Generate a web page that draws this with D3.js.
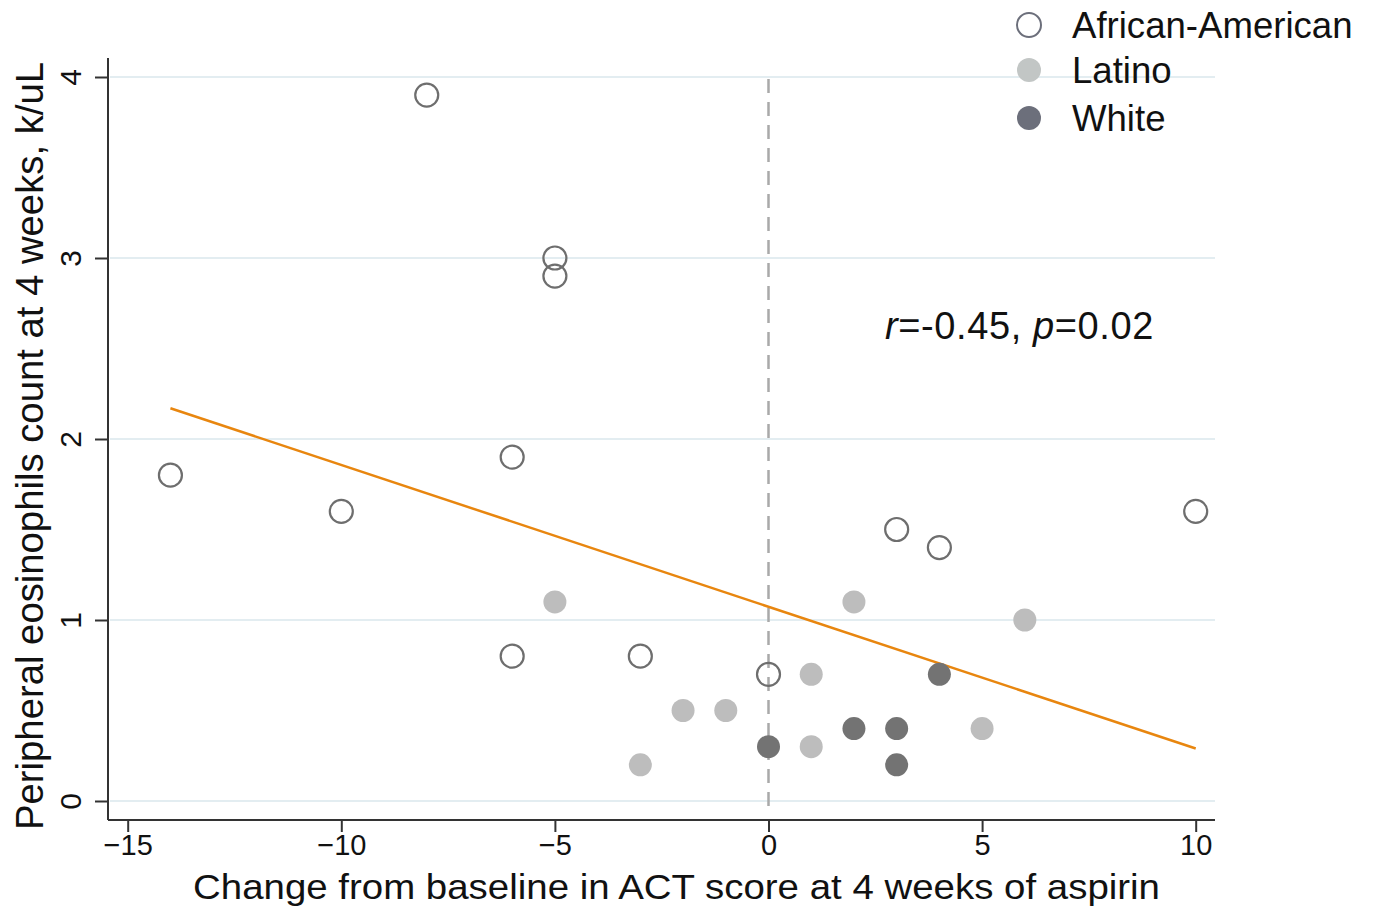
<!DOCTYPE html>
<html><head><meta charset="utf-8">
<script src="https://cdn.jsdelivr.net/npm/d3@7"></script>
<style>
html,body{margin:0;padding:0;background:#fff;}
text{font-family:"Liberation Sans",Arial,Helvetica,sans-serif;fill:#111;}
</style></head>
<body><svg id="c" width="1375" height="916"></svg>
<script>
// ---- data ----
const groups = ["African-American", "Latino", "White"];
const aaX = [-8, -5, -5, -14, -10, -6, -6, -3, 0, 3, 4, 10];
const aaY = [3.9, 3.0, 2.9, 1.8, 1.6, 1.9, 0.8, 0.8, 0.7, 1.5, 1.4, 1.6];
const laX = [-5, -3, -2, -1, 1, 1, 2, 5, 6];
const laY = [1.1, 0.2, 0.5, 0.5, 0.7, 0.3, 1.1, 0.4, 1.0];
const whX = [0, 2, 3, 3, 4];
const whY = [0.3, 0.4, 0.4, 0.2, 0.7];
const fitX = [-14, 10];
const fitY = [2.17, 0.29];
const xTicks = [-15, -10, -5, 0, 5, 10];
const yTicks = [0, 1, 2, 3, 4];
const xTitle = "Change from baseline in ACT score at 4 weeks of aspirin";
const yTitle = "Peripheral eosinophils count at 4 weeks, k/uL";

const svg = d3.select("#c");
const x = d3.scaleLinear().domain([0, 5]).range([768.5, 982.1]);
const y = d3.scaleLinear().domain([0, 4]).range([801, 77]);
const plotL = 108, plotR = 1215, plotB = 820, plotT = 58;

// grid
svg.append("g").selectAll("line").data(yTicks).join("line")
  .attr("x1", plotL + 2).attr("x2", plotR).attr("y1", d => y(d)).attr("y2", d => y(d))
  .attr("stroke", "#e3edf1").attr("stroke-width", 2);

// zero dashed line
svg.append("line").attr("x1", x(0)).attr("x2", x(0)).attr("y1", y(4.0) + 2).attr("y2", plotB - 6)
  .attr("stroke", "#a9a9a9").attr("stroke-width", 2.5).attr("stroke-dasharray", "14,9");

// axes
const yAxis = d3.axisLeft(y).tickValues(yTicks).tickSize(13).tickPadding(14).tickFormat(d3.format("d"));
const gy = svg.append("g").attr("transform", `translate(${plotL},0)`).call(yAxis);
gy.select(".domain").remove();
gy.append("line").attr("x1", 0).attr("x2", 0).attr("y1", plotT).attr("y2", plotB).attr("stroke", "#333").attr("stroke-width", 2);
gy.selectAll(".tick line").attr("stroke", "#333").attr("stroke-width", 2);
gy.selectAll(".tick text").attr("font-size", 30).attr("fill", "#111")
  .attr("text-anchor", "middle")
  .each(function(){ d3.select(this).attr("transform", "translate(-38,0) rotate(-90)").attr("y", 0).attr("x", 0).attr("dy", "0.35em"); });

const xAxis = d3.axisBottom(x).tickValues(xTicks).tickSize(12).tickPadding(2)
  .tickFormat(d => d < 0 ? "\u2212" + Math.abs(d) : d);
const gx = svg.append("g").attr("transform", `translate(0,${plotB})`).call(xAxis);
gx.select(".domain").remove();
gx.append("line").attr("x1", plotL).attr("x2", plotR).attr("y1", 0).attr("y2", 0).attr("stroke", "#333").attr("stroke-width", 2);
gx.selectAll(".tick line").attr("stroke", "#333").attr("stroke-width", 2);
gx.selectAll(".tick text").attr("font-size", 29).attr("fill", "#111");

// titles
svg.append("text").attr("x", 676.5).attr("y", 899).attr("text-anchor", "middle")
  .attr("font-size", 35).attr("textLength", 967).attr("lengthAdjust", "spacingAndGlyphs").text(xTitle);
svg.append("text").attr("transform", "translate(43,446) rotate(-90)").attr("text-anchor", "middle")
  .attr("font-size", 38).attr("textLength", 768).attr("lengthAdjust", "spacingAndGlyphs").text(yTitle);

// fit line
svg.append("path").datum(fitX.map((d, i) => [d, fitY[i]]))
  .attr("d", d3.line().x(d => x(d[0])).y(d => y(d[1])))
  .attr("fill", "none").attr("stroke", "#e8860f").attr("stroke-width", 2.5);

// points
const R = 11.5;
function pts(xs, ys, fill, stroke) {
  svg.append("g").selectAll("circle").data(xs.map((d, i) => [d, ys[i]])).join("circle")
    .attr("cx", d => x(d[0])).attr("cy", d => y(d[1])).attr("r", R)
    .attr("fill", fill).attr("stroke", stroke).attr("stroke-width", stroke === "none" ? 0 : 2.2);
}
pts(laX, laY, "#bdbdbd", "none");
pts(whX, whY, "#737373", "none");
pts(aaX, aaY, "none", "#6e6e6e");

// annotation
const ann = svg.append("text").attr("x", 885).attr("y", 339).attr("font-size", 38).attr("letter-spacing", 0.6);
ann.append("tspan").attr("font-style", "italic").text("r");
ann.append("tspan").text("=-0.45, ");
ann.append("tspan").attr("font-style", "italic").text("p");
ann.append("tspan").text("=0.02");

// legend
const legFill = ["#fff", "#c2c6c5", "#6c6f7b"];
const legStroke = ["#6c6f7b", "none", "none"];
const lg = svg.append("g").selectAll("g").data(groups).join("g")
  .attr("transform", (d, i) => `translate(1029,${[25, 70, 118][i]})`);
lg.append("circle").attr("r", 12).attr("fill", (d, i) => legFill[i])
  .attr("stroke", (d, i) => legStroke[i]).attr("stroke-width", 2);
lg.append("text").attr("x", 43).attr("dy", "0.36em").attr("font-size", 36.6).text(d => d);
</script></body></html>
